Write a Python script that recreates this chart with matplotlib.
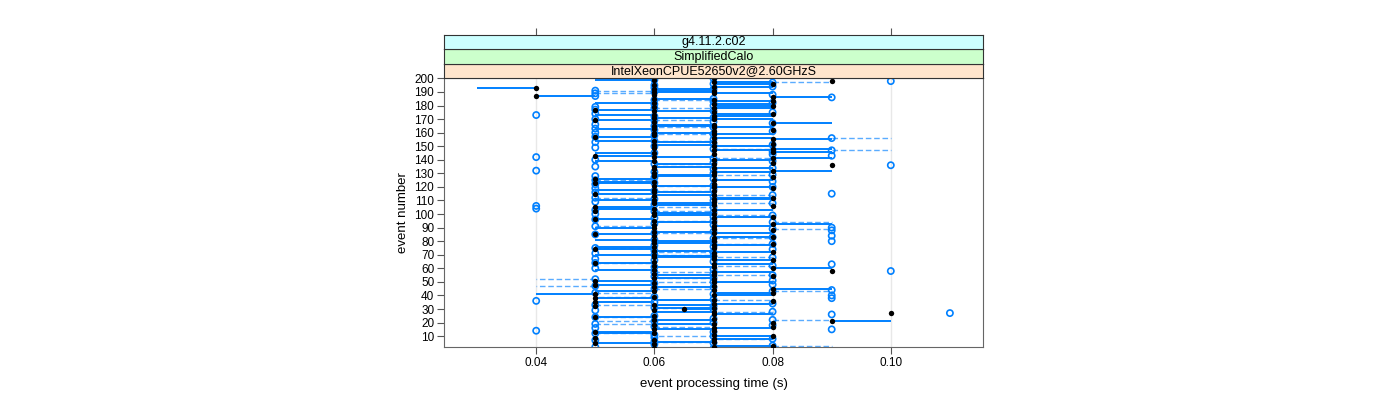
import numpy as np
import matplotlib

matplotlib.use("Agg")
import matplotlib.pyplot as plt

plt.rcParams["font.family"] = ["Liberation Sans", "DejaVu Sans"]

strip_labels = ["g4.11.2.c02", "SimplifiedCalo", "IntelXeonCPUE52650v2@2.60GHzS"]
strip_colors = ["#ccffff", "#ccffcc", "#ffe5cc"]

events = np.arange(1, 201)

# event processing time (s), black filled points
time_black = [
    0.06, 0.07, 0.08, 0.06, 0.05, 0.07, 0.06, 0.07, 0.05, 0.08,
    0.07, 0.06, 0.05, 0.07, 0.06, 0.07, 0.08, 0.06, 0.07, 0.08,
    0.09, 0.06, 0.07, 0.05, 0.06, 0.07, 0.10, 0.07, 0.06, 0.065,
    0.07, 0.05, 0.06, 0.07, 0.05, 0.08, 0.07, 0.05, 0.06, 0.07,
    0.05, 0.08, 0.06, 0.07, 0.08, 0.06, 0.07, 0.05, 0.06, 0.07,
    0.05, 0.07, 0.06, 0.08, 0.07, 0.06, 0.07, 0.09, 0.06, 0.08,
    0.07, 0.06, 0.07, 0.05, 0.06, 0.08, 0.07, 0.06, 0.07, 0.06,
    0.07, 0.08, 0.06, 0.05, 0.07, 0.06, 0.07, 0.08, 0.06, 0.07,
    0.06, 0.07, 0.08, 0.06, 0.05, 0.07, 0.06, 0.08, 0.07, 0.06,
    0.07, 0.06, 0.08, 0.07, 0.06, 0.05, 0.07, 0.08, 0.06, 0.07,
    0.06, 0.05, 0.07, 0.06, 0.05, 0.08, 0.07, 0.06, 0.07, 0.06,
    0.07, 0.08, 0.06, 0.07, 0.05, 0.06, 0.07, 0.06, 0.08, 0.07,
    0.06, 0.07, 0.05, 0.06, 0.07, 0.05, 0.08, 0.06, 0.07, 0.06,
    0.07, 0.08, 0.06, 0.07, 0.06, 0.09, 0.07, 0.08, 0.06, 0.07,
    0.08, 0.06, 0.05, 0.07, 0.06, 0.08, 0.07, 0.08, 0.06, 0.07,
    0.06, 0.08, 0.07, 0.06, 0.08, 0.07, 0.05, 0.06, 0.07, 0.06,
    0.07, 0.08, 0.06, 0.07, 0.06, 0.07, 0.08, 0.06, 0.05, 0.07,
    0.06, 0.07, 0.06, 0.08, 0.07, 0.06, 0.05, 0.07, 0.06, 0.08,
    0.07, 0.06, 0.08, 0.07, 0.06, 0.08, 0.04, 0.06, 0.07, 0.06,
    0.07, 0.06, 0.04, 0.07, 0.06, 0.08, 0.07, 0.09, 0.06, 0.07,
]

# other end of the solid segment for each black point
ref_black = [
    0.07, 0.07, 0.07, 0.06, 0.06, 0.06, 0.06, 0.08, 0.05, 0.07,
    0.07, 0.05, 0.06, 0.07, 0.07, 0.08, 0.08, 0.06, 0.06, 0.08,
    0.10, 0.07, 0.07, 0.06, 0.06, 0.08, 0.10, 0.06, 0.06, 0.07,
    0.06, 0.05, 0.07, 0.08, 0.06, 0.08, 0.06, 0.06, 0.06, 0.08,
    0.04, 0.07, 0.05, 0.07, 0.09, 0.07, 0.07, 0.06, 0.06, 0.08,
    0.06, 0.07, 0.07, 0.08, 0.06, 0.06, 0.08, 0.09, 0.05, 0.09,
    0.06, 0.06, 0.08, 0.06, 0.06, 0.07, 0.07, 0.07, 0.06, 0.05,
    0.07, 0.07, 0.07, 0.06, 0.07, 0.05, 0.08, 0.08, 0.07, 0.06,
    0.05, 0.07, 0.07, 0.06, 0.06, 0.08, 0.07, 0.08, 0.07, 0.05,
    0.08, 0.06, 0.09, 0.06, 0.06, 0.06, 0.07, 0.07, 0.07, 0.07,
    0.07, 0.05, 0.08, 0.05, 0.06, 0.08, 0.06, 0.07, 0.07, 0.05,
    0.08, 0.07, 0.06, 0.06, 0.06, 0.07, 0.07, 0.05, 0.08, 0.08,
    0.07, 0.07, 0.06, 0.05, 0.08, 0.06, 0.08, 0.07, 0.06, 0.06,
    0.08, 0.09, 0.06, 0.08, 0.07, 0.09, 0.06, 0.08, 0.05, 0.08,
    0.09, 0.07, 0.06, 0.07, 0.05, 0.09, 0.08, 0.09, 0.06, 0.08,
    0.07, 0.08, 0.06, 0.05, 0.09, 0.08, 0.06, 0.06, 0.08, 0.07,
    0.07, 0.08, 0.05, 0.08, 0.07, 0.06, 0.09, 0.06, 0.06, 0.08,
    0.07, 0.08, 0.05, 0.07, 0.07, 0.07, 0.06, 0.08, 0.06, 0.07,
    0.08, 0.05, 0.07, 0.07, 0.07, 0.09, 0.05, 0.06, 0.08, 0.07,
    0.06, 0.07, 0.03, 0.08, 0.06, 0.07, 0.08, 0.09, 0.05, 0.06,
]

# event processing time (s), open blue circles
time_blue = [
    0.07, 0.05, 0.08, 0.06, 0.07, 0.06, 0.05, 0.08, 0.06, 0.07,
    0.06, 0.05, 0.07, 0.04, 0.09, 0.05, 0.06, 0.08, 0.05, 0.07,
    0.06, 0.08, 0.07, 0.05, 0.06, 0.09, 0.11, 0.08, 0.05, 0.07,
    0.06, 0.07, 0.05, 0.08, 0.06, 0.04, 0.07, 0.09, 0.06, 0.09,
    0.07, 0.05, 0.08, 0.09, 0.06, 0.07, 0.05, 0.08, 0.06, 0.07,
    0.08, 0.05, 0.07, 0.06, 0.08, 0.07, 0.06, 0.10, 0.07, 0.05,
    0.06, 0.08, 0.09, 0.05, 0.07, 0.06, 0.05, 0.08, 0.07, 0.06,
    0.05, 0.07, 0.06, 0.08, 0.05, 0.07, 0.06, 0.08, 0.07, 0.09,
    0.06, 0.07, 0.08, 0.09, 0.05, 0.06, 0.07, 0.09, 0.08, 0.09,
    0.05, 0.07, 0.06, 0.08, 0.07, 0.05, 0.06, 0.07, 0.08, 0.05,
    0.07, 0.06, 0.05, 0.04, 0.07, 0.04, 0.06, 0.08, 0.05, 0.07,
    0.06, 0.05, 0.07, 0.08, 0.09, 0.05, 0.06, 0.07, 0.05, 0.08,
    0.07, 0.05, 0.06, 0.08, 0.05, 0.07, 0.06, 0.05, 0.08, 0.07,
    0.06, 0.04, 0.07, 0.08, 0.05, 0.10, 0.06, 0.07, 0.08, 0.05,
    0.07, 0.04, 0.09, 0.08, 0.06, 0.08, 0.09, 0.07, 0.05, 0.06,
    0.08, 0.07, 0.05, 0.06, 0.07, 0.09, 0.05, 0.06, 0.07, 0.05,
    0.08, 0.06, 0.05, 0.07, 0.06, 0.05, 0.08, 0.07, 0.06, 0.05,
    0.07, 0.06, 0.04, 0.05, 0.08, 0.07, 0.05, 0.06, 0.05, 0.07,
    0.06, 0.08, 0.07, 0.06, 0.07, 0.09, 0.05, 0.08, 0.05, 0.06,
    0.05, 0.07, 0.06, 0.08, 0.06, 0.07, 0.08, 0.10, 0.06, 0.07,
]

# other end of the dashed segment for each blue circle
ref_blue = [
    0.06, 0.05, 0.09, 0.06, 0.07, 0.07, 0.05, 0.07, 0.06, 0.06,
    0.06, 0.06, 0.07, 0.04, 0.09, 0.05, 0.07, 0.08, 0.06, 0.07,
    0.05, 0.09, 0.07, 0.06, 0.06, 0.09, 0.11, 0.07, 0.05, 0.07,
    0.07, 0.07, 0.06, 0.08, 0.06, 0.04, 0.08, 0.09, 0.05, 0.09,
    0.07, 0.06, 0.09, 0.09, 0.07, 0.07, 0.04, 0.08, 0.06, 0.06,
    0.08, 0.04, 0.06, 0.06, 0.07, 0.07, 0.07, 0.10, 0.07, 0.05,
    0.06, 0.07, 0.09, 0.06, 0.07, 0.06, 0.05, 0.07, 0.07, 0.07,
    0.05, 0.06, 0.06, 0.08, 0.06, 0.07, 0.06, 0.07, 0.07, 0.09,
    0.06, 0.08, 0.08, 0.09, 0.05, 0.07, 0.07, 0.09, 0.09, 0.09,
    0.06, 0.07, 0.06, 0.09, 0.06, 0.05, 0.06, 0.07, 0.07, 0.05,
    0.07, 0.07, 0.05, 0.04, 0.06, 0.04, 0.06, 0.07, 0.05, 0.07,
    0.06, 0.06, 0.07, 0.07, 0.09, 0.05, 0.07, 0.07, 0.05, 0.08,
    0.06, 0.05, 0.06, 0.08, 0.06, 0.07, 0.06, 0.05, 0.07, 0.07,
    0.06, 0.04, 0.07, 0.08, 0.05, 0.10, 0.07, 0.07, 0.08, 0.05,
    0.08, 0.04, 0.09, 0.08, 0.06, 0.08, 0.10, 0.08, 0.05, 0.06,
    0.08, 0.07, 0.05, 0.07, 0.07, 0.10, 0.05, 0.06, 0.06, 0.05,
    0.08, 0.06, 0.05, 0.06, 0.06, 0.05, 0.08, 0.07, 0.07, 0.05,
    0.07, 0.06, 0.04, 0.05, 0.08, 0.07, 0.05, 0.07, 0.05, 0.07,
    0.06, 0.08, 0.07, 0.07, 0.07, 0.09, 0.05, 0.08, 0.06, 0.06,
    0.06, 0.07, 0.06, 0.08, 0.06, 0.07, 0.09, 0.10, 0.06, 0.07,
]

x_ticks = [0.04, 0.06, 0.08, 0.10]
x_tick_labels = ["0.04", "0.06", "0.08", "0.10"]
y_ticks = list(range(10, 201, 10))

fig = plt.figure(figsize=(14, 4), dpi=100)
left, width = 444 / 1400, (983 - 444) / 1400
bottom, top = 1 - 347 / 400, 1 - 78 / 400
ax = fig.add_axes([left, bottom, width, top - bottom])

for xt in x_ticks:
    ax.axvline(xt, color="#e8e8e8", lw=1, zorder=0)

ax.hlines(events, time_blue, ref_blue, color="#5aacff", lw=1,
          linestyles=(0, (4, 2)), zorder=1)
ax.hlines(events, time_black, ref_black, color="#0080ff", lw=1.4, zorder=2)
ax.scatter(time_blue, events, s=20, facecolors="none",
           edgecolors="#0080ff", lw=1.2, zorder=3)
ax.scatter(time_black, events, s=15, color="black", zorder=4, lw=0)

ax.set_xlim(0.0244, 0.1156)
ax.set_ylim(2, 200.3)
ax.set_xticks(x_ticks)
ax.set_xticklabels(x_tick_labels)
ax.set_yticks(y_ticks)
ax.tick_params(labelsize=8.5, length=5, color="#555555", pad=2)
for sp in ax.spines.values():
    sp.set_color("#666666")
ax.set_xlabel("event processing time (s)", fontsize=9.5, labelpad=7)
ax.set_ylabel("event number", fontsize=9.5, labelpad=4)

strip_h = 14.3 / 400
for i, (label, col) in enumerate(zip(strip_labels[::-1], strip_colors[::-1])):
    sax = fig.add_axes([left, top + i * strip_h, width, strip_h])
    sax.set_facecolor(col)
    sax.set_xlim(ax.get_xlim())
    sax.set_yticks([])
    sax.text(0.5, 0.5, label, ha="center", va="center", fontsize=9,
             transform=sax.transAxes)
    for sp in sax.spines.values():
        sp.set_color("#333333")
    if i == 2:
        sax.set_xticks(x_ticks)
        sax.tick_params(axis="x", top=True, bottom=False, labeltop=False,
                        labelbottom=False, length=5, color="#555555")
    else:
        sax.set_xticks([])

fig.savefig("out.png", dpi=100)
